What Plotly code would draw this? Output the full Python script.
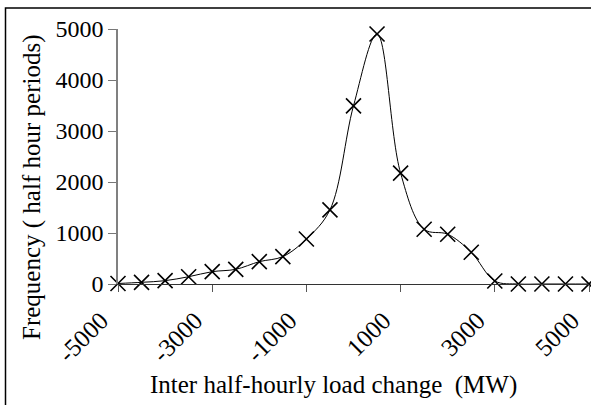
import plotly.graph_objects as go

load_change_mw = [-5000, -4500, -4000, -3500, -3000, -2500, -2000, -1500, -1000, -500,
                  0, 500, 1000, 1500, 2000, 2500, 3000, 3500, 4000, 4500, 5000]
frequency = [10, 33, 65, 143, 242, 288, 438, 537, 883, 1453,
             3494, 4902, 2173, 1074, 976, 622, 59, 0, 0, 0, 0]
x_tick_values = [-5000, -3000, -1000, 1000, 3000, 5000]
x_tick_labels = ["-5000", "-3000", "-1000", "1000", "3000", "5000"]
y_tick_values = [0, 1000, 2000, 3000, 4000, 5000]

W, H = 591, 405
L, R, T, B = 118, 2, 29, 121
pw, ph = W - L - R, H - T - B

def px(x):
    return (x - L) / pw

def py(y):
    return (H - B - y) / ph

FONT = "Times New Roman"

fig = go.Figure()
fig.add_trace(go.Scatter(
    x=load_change_mw, y=frequency, mode="lines+markers",
    line=dict(color="black", width=1, shape="spline", smoothing=1),
    marker=dict(symbol="x-thin", size=15, line=dict(color="black", width=1.6)),
    cliponaxis=False, showlegend=False,
))

fig.update_layout(
    width=W, height=H,
    margin=dict(l=L, r=R, t=T, b=B, autoexpand=False),
    paper_bgcolor="white", plot_bgcolor="white",
    font=dict(family=FONT, color="black", size=24),
    xaxis=dict(range=[-5000, 5000], tickvals=x_tick_values, ticktext=x_tick_labels,
               tickangle=-45, ticks="outside", ticklen=7, tickcolor="#555",
               showline=True, linecolor="#333", linewidth=1.2, showgrid=False,
               zeroline=False, automargin=False, ticklabeloverflow="allow",
               ticklabelshift=-17, ticklabelstandoff=4,
               tickfont=dict(family=FONT, size=25)),
    yaxis=dict(range=[0, 5000], tickvals=y_tick_values, ticks="outside", ticklen=8,
               tickcolor="#777", showline=True, linecolor="#808080", linewidth=1.5,
               showgrid=False, zeroline=False, automargin=False,
               tickfont=dict(family=FONT, size=24)),
    annotations=[
        dict(text="Inter half-hourly load change  (MW)", xref="paper", yref="paper",
             x=px(333), y=py(385), xanchor="center", yanchor="middle", showarrow=False,
             font=dict(family=FONT, size=25)),
        dict(text="Frequency ( half hour periods)", xref="paper", yref="paper",
             x=px(32), y=py(188), xanchor="center", yanchor="middle", showarrow=False,
             textangle=-90, font=dict(family=FONT, size=25)),
    ],
    shapes=[dict(type="rect", xref="paper", yref="paper",
                 x0=px(5.5), x1=px(600), y0=py(420), y1=py(8),
                 line=dict(color="black", width=1.5), fillcolor="rgba(0,0,0,0)")],
)

fig.write_html("out.html", config={"displayModeBar": False},
               post_script="document.body.style.margin='0px';")
